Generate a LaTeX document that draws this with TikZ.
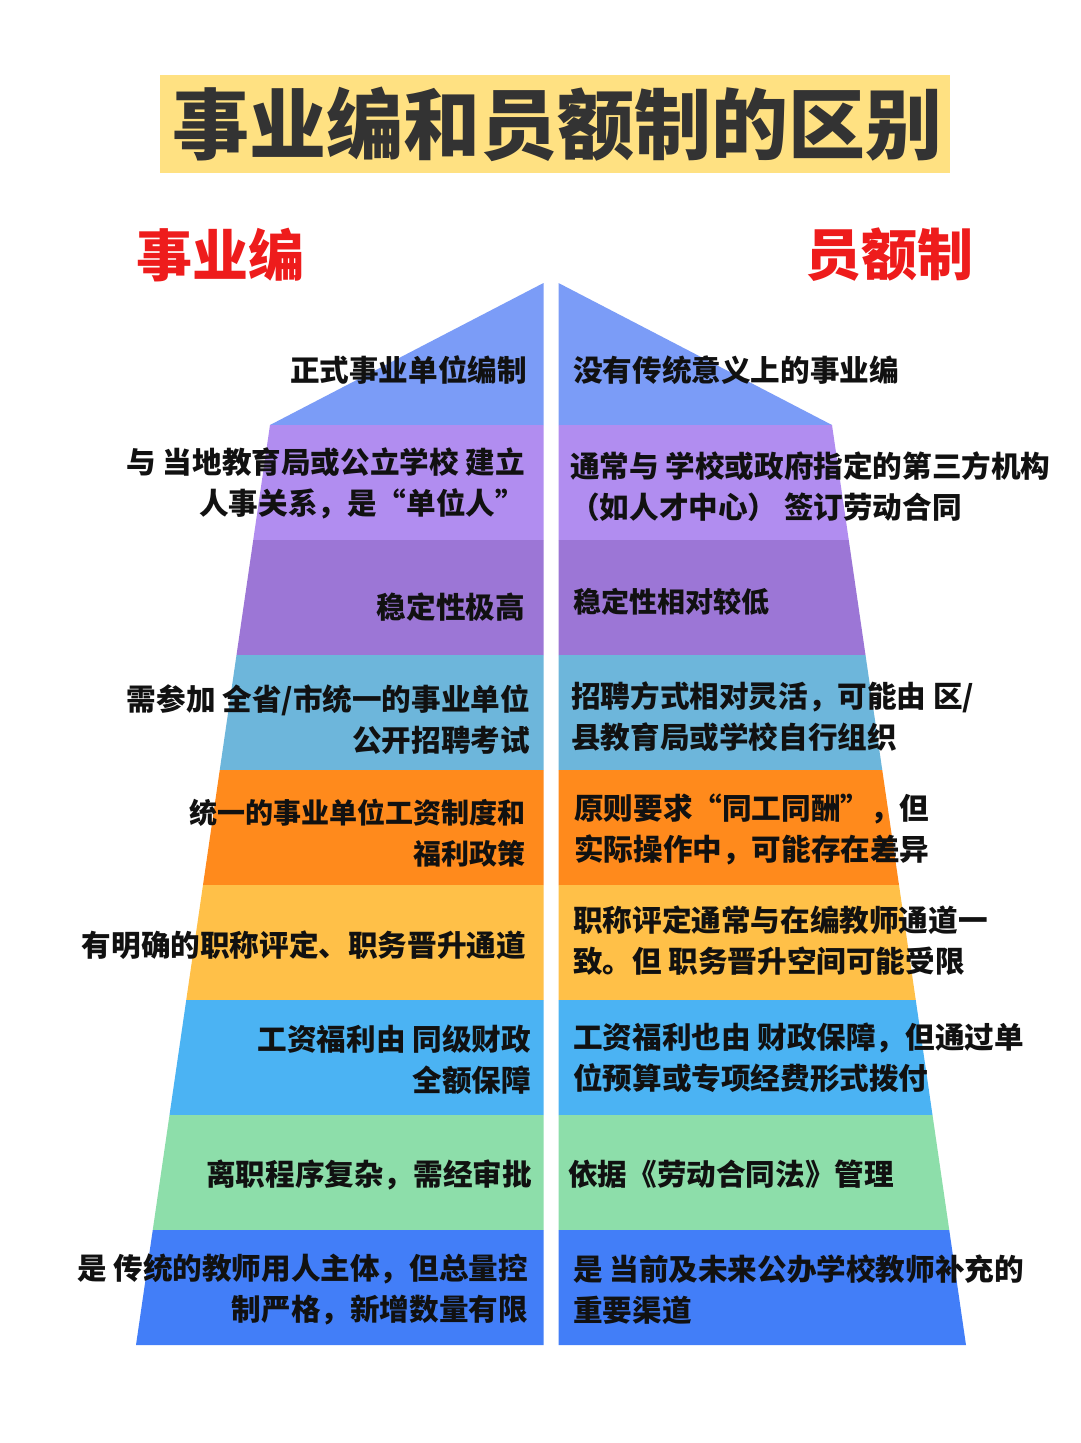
\documentclass[tikz,border=0pt]{standalone}
\usepackage{fontspec}
\setmainfont{Noto Sans CJK SC}
\definecolor{cTop}{HTML}{7B9CF7}
\definecolor{cA}{HTML}{B18DF0}
\definecolor{cB}{HTML}{9C76D6}
\definecolor{cC}{HTML}{6DB6DB}
\definecolor{cD}{HTML}{FF8A1C}
\definecolor{cE}{HTML}{FFC048}
\definecolor{cF}{HTML}{4BB3F3}
\definecolor{cG}{HTML}{8DDEAA}
\definecolor{cH}{HTML}{427EF8}
\definecolor{titlebg}{HTML}{FFE182}
\definecolor{titletext}{HTML}{333333}
\definecolor{headred}{HTML}{EE1C1C}
\definecolor{bodytext}{HTML}{111111}
\begin{document}
\begin{tikzpicture}[x=1pt,y=-1pt,
  lefttext/.style={anchor=east,align=right,inner sep=0pt,text=bodytext,font=\fontsize{29.6}{41}\selectfont\bfseries},
  righttext/.style={anchor=west,align=left,inner sep=0pt,text=bodytext,font=\fontsize{29.6}{41}\selectfont\bfseries},
  headtext/.style={text=headred,inner sep=0pt,font=\fontsize{56}{60}\selectfont\bfseries}]
\useasboundingbox (0,0) rectangle (1080,1443);
\fill[white] (0,0) rectangle (1080,1443);
% title
\node[fill=titlebg,minimum width=790pt,minimum height=98pt,inner sep=0pt] (titlebox) at (555,124) {};
\node[text=titletext,inner sep=0pt,font=\fontsize{77}{80}\selectfont\bfseries] (title) at (557,124) {事业编和员额制的区别};
% headings
\node[headtext] (headL) at (220,255) {事业编};
\node[headtext] (headR) at (889,255) {员额制};
% top triangles
\fill[cTop] (543.5,283) -- (543.5,425) -- (270,425) -- cycle;
\fill[cTop] (558.5,283) -- (832,425) -- (558.5,425) -- cycle;
% bands
\foreach \i/\col in {0/cA,1/cB,2/cC,3/cD,4/cE,5/cF,6/cG,7/cH}{
  \pgfmathsetmacro{\yt}{425+115*\i}
  \pgfmathsetmacro{\yb}{\yt+115}
  \pgfmathsetmacro{\ht}{281+(\yt-425)*0.14565}
  \pgfmathsetmacro{\hb}{281+(\yb-425)*0.14565}
  \fill[\col] ({551-\ht},\yt) -- (543.5,\yt) -- (543.5,\yb) -- ({551-\hb},\yb) -- cycle;
  \fill[\col] (558.5,\yt) -- ({551+\ht},\yt) -- ({551+\hb},\yb) -- (558.5,\yb) -- cycle;
}
% left texts
\node[lefttext] (l1) at (527,370) {正式事业单位编制};
\node[lefttext] (l2) at (525,483) {与 当地教育局或公立学校 建立\\人事关系，是“单位人”};
\node[lefttext] (l3) at (525,607) {稳定性极高};
\node[lefttext] (l4) at (530,720) {需参加 全省/市统一的事业单位\\公开招聘考试};
\node[lefttext,font=\fontsize{28}{41}\selectfont\bfseries] (l5) at (526,833) {统一的事业单位工资制度和\\福利政策};
\node[lefttext] (l6) at (526,945) {有明确的职称评定、职务晋升通道};
\node[lefttext] (l7) at (531,1060) {工资福利由 同级财政\\全额保障};
\node[lefttext] (l8) at (532,1175) {离职程序复杂，需经审批};
\node[lefttext] (l9) at (528,1289) {是 传统的教师用人主体，但总量控\\制严格，新增数量有限};
% right texts
\node[righttext] (r1) at (573,370) {没有传统意义上的事业编};
\node[righttext] (r2) at (570,487) {通常与 学校或政府指定的第三方机构\\（如人才中心） 签订劳动合同};
\node[righttext,font=\fontsize{28}{41}\selectfont\bfseries] (r3) at (573,602) {稳定性相对较低};
\node[righttext] (r4) at (571,717) {招聘方式相对灵活，可能由 区/\\县教育局或学校自行组织};
\node[righttext] (r5) at (574,829) {原则要求“同工同酬”，但\\实际操作中，可能存在差异};
\node[righttext] (r6) at (573,941) {职称评定通常与在编教师通道一\\致。但 职务晋升空间可能受限};
\node[righttext] (r7) at (573,1058) {工资福利也由 财政保障，但通过单\\位预算或专项经费形式拨付};
\node[righttext] (r8) at (568,1174) {依据《劳动合同法》管理};
\node[righttext] (r9) at (573,1290) {是 当前及未来公办学校教师补充的\\重要渠道};
\end{tikzpicture}
\end{document}
